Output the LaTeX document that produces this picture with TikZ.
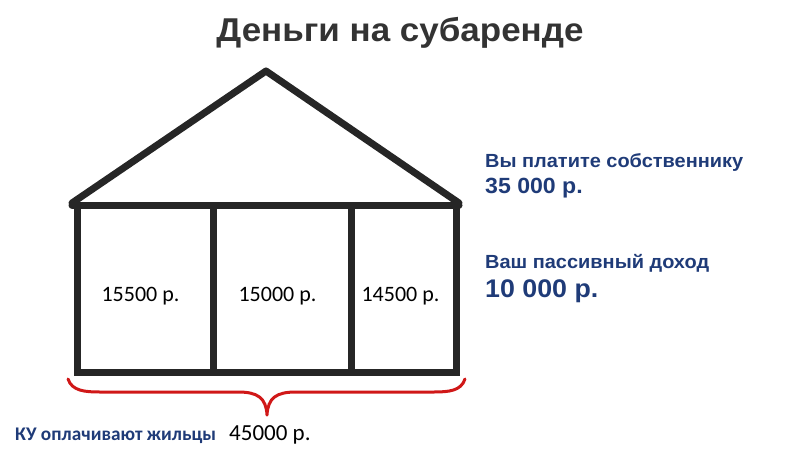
\documentclass[tikz,border=0pt]{standalone}
\usepackage{fontspec}
\setmainfont{Liberation Sans}
\newfontfamily\calfont{Carlito}
\newfontfamily\widefont[FakeStretch=1.06]{Liberation Sans}
\newfontfamily\bluefont[FakeStretch=1.05]{Liberation Sans}
\definecolor{housecol}{HTML}{262626}
\definecolor{bluetxt}{HTML}{1F3B78}
\definecolor{bracered}{HTML}{D01818}
\definecolor{titlecol}{HTML}{333333}
\begin{document}
\begin{tikzpicture}[x=1pt,y=-1pt,
  wall/.style={draw=housecol,line width=7pt},
  roomlbl/.style={font=\calfont\fontsize{22}{24}\selectfont,anchor=base,inner sep=0pt},
  bluelbl/.style={text=bluetxt,anchor=base west,inner sep=0pt},
]
\useasboundingbox (0,0) rectangle (800,450);
% title
\node[anchor=base,inner sep=0pt,text=titlecol,font=\widefont\fontsize{33}{36}\selectfont\bfseries] (title) at (400,41) {Деньги на субаренде};
% roof
\draw[wall,line join=round,line cap=round] (72,203) -- (266,71) -- (459,203);
% beam
\draw[wall,line cap=round] (72,205) -- (459,205);
% walls
\draw[wall,line join=miter] (77,205) rectangle (456,372);
\draw[wall] (213,205) -- (213,372);
\draw[wall] (351,205) -- (351,372);
% room labels
\node[roomlbl] (r1) at (140.5,301) {15500 р.};
\node[roomlbl] (r2) at (277.5,301) {15000 р.};
\node[roomlbl] (r3) at (400.5,301) {14500 р.};
% brace
\draw[draw=bracered,line width=3pt,line cap=round,line join=round]
  (68,379) .. controls (72,391) and (85,392) .. (100,392)
  -- (238,392) .. controls (258,392) and (266,398) .. (267,415)
  .. controls (268,398) and (276,392) .. (296,392)
  -- (433,392) .. controls (449,392) and (461,391) .. (465,379);
% bottom texts
\node[anchor=base west,inner sep=0pt,text=bluetxt,font=\calfont\fontsize{19.3}{21}\selectfont\bfseries] (ku) at (15,440) {КУ оплачивают жильцы};
\node[anchor=base west,inner sep=0pt,font=\calfont\fontsize{23}{25}\selectfont] (sum) at (229,440) {45000 р.};
% right texts
\node[bluelbl,font=\bluefont\fontsize{19}{21}\selectfont\bfseries] (pay) at (485,167) {Вы платите собственнику};
\node[bluelbl,font=\bluefont\fontsize{22}{24}\selectfont\bfseries] (payv) at (485,193) {35 000 р.};
\node[bluelbl,font=\bluefont\fontsize{19}{21}\selectfont\bfseries] (inc) at (485,268) {Ваш пассивный доход};
\node[bluelbl,font=\bluefont\fontsize{25.5}{28}\selectfont\bfseries] (incv) at (485,297) {10 000 р.};
\end{tikzpicture}
\end{document}
